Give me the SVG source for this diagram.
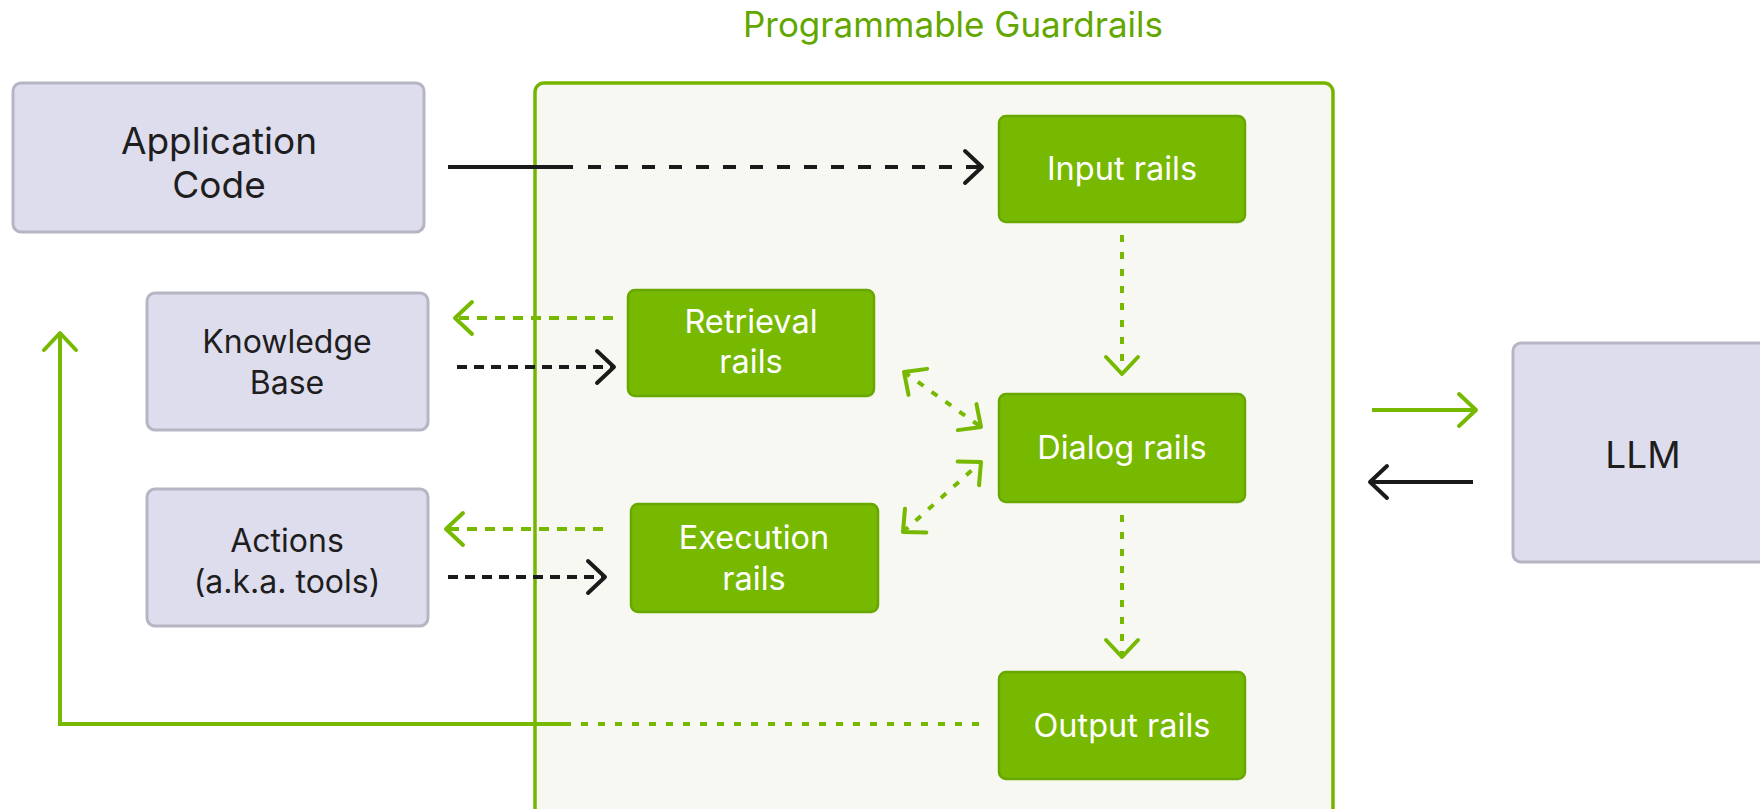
<svg xmlns="http://www.w3.org/2000/svg" width="1760" height="809" viewBox="0 0 1760 809">
<style>
  .lav { fill: #dedded; stroke: #b6b5c4; stroke-width: 3; }
  .grn { fill: #76b900; stroke: #68a600; stroke-width: 2.5; }
  .lt { font-family: Inter, "Noto Sans", "Liberation Sans", sans-serif; font-size: 37px; fill: #1e1e1e; text-anchor: middle; }
  .ls { font-size: 32px; }
  .gt { font-family: Inter, "Noto Sans", "Liberation Sans", sans-serif; font-size: 32.5px; fill: #ffffff; text-anchor: middle; }
  .title { font-family: Inter, "Noto Sans", "Liberation Sans", sans-serif; font-size: 35px; fill: #62a600; text-anchor: middle; }
  .bk { stroke: #1a1a1a; stroke-width: 4; fill: none; }
  .gr { stroke: #76b900; stroke-width: 4; fill: none; }
  .dashB { stroke-dasharray: 13 14; }
  .dashB2 { stroke-dasharray: 10 7; }
  .dashG { stroke-dasharray: 10 8; }
  .dotG { stroke-dasharray: 7 10; }
</style>
<defs>
  <marker id="ab" markerUnits="userSpaceOnUse" markerWidth="40" markerHeight="40" refX="20" refY="20" orient="auto" overflow="visible">
    <path d="M3 4 L20 20 L3 36" fill="none" stroke="#1a1a1a" stroke-width="4" stroke-linecap="round" stroke-linejoin="round"/>
  </marker>
  <marker id="ag" markerUnits="userSpaceOnUse" markerWidth="40" markerHeight="40" refX="20" refY="20" orient="auto-start-reverse" overflow="visible">
    <path d="M3 4 L20 20 L3 36" fill="none" stroke="#76b900" stroke-width="4" stroke-linecap="round" stroke-linejoin="round"/>
  </marker>
</defs>
<rect width="1760" height="809" fill="#ffffff"/>

<g id="guardrails">
  <rect x="535" y="83" width="798" height="760" rx="9" fill="#f7f8f1" stroke="#74b500" stroke-width="3.5"/>
  <text class="title" x="953" y="37">Programmable Guardrails</text>
</g>

<g id="app-code">
  <rect class="lav" x="13" y="83" width="411" height="149" rx="8"/>
  <text class="lt" x="219" y="154">Application</text>
  <text class="lt" x="219" y="198">Code</text>
</g>
<g id="knowledge-base">
  <rect class="lav" x="147" y="293" width="281" height="137" rx="8"/>
  <text class="lt ls" x="287" y="353">Knowledge</text>
  <text class="lt ls" x="287" y="394">Base</text>
</g>
<g id="actions">
  <rect class="lav" x="147" y="489" width="281" height="137" rx="8"/>
  <text class="lt ls" x="287" y="552">Actions</text>
  <text class="lt ls" x="287" y="593">(a.k.a. tools)</text>
</g>
<g id="llm">
  <rect class="lav" x="1513" y="343" width="270" height="219" rx="8"/>
  <text class="lt" x="1643" y="468">LLM</text>
</g>

<g id="input-rails">
  <rect class="grn" x="999" y="116" width="246" height="106" rx="7"/>
  <text class="gt" x="1122" y="180">Input rails</text>
</g>
<g id="retrieval-rails">
  <rect class="grn" x="628" y="290" width="246" height="106" rx="7"/>
  <text class="gt" x="751" y="333">Retrieval</text>
  <text class="gt" x="751" y="373">rails</text>
</g>
<g id="dialog-rails">
  <rect class="grn" x="999" y="394" width="246" height="108" rx="7"/>
  <text class="gt" x="1122" y="459">Dialog rails</text>
</g>
<g id="execution-rails">
  <rect class="grn" x="631" y="504" width="247" height="108" rx="7"/>
  <text class="gt" x="754" y="549">Execution</text>
  <text class="gt" x="754" y="590">rails</text>
</g>
<g id="output-rails">
  <rect class="grn" x="999" y="672" width="246" height="107" rx="7"/>
  <text class="gt" x="1122" y="737">Output rails</text>
</g>

<g id="connectors">
  <line class="bk" x1="448" y1="167" x2="573" y2="167"/>
  <line class="bk dashB" x1="588" y1="167" x2="982" y2="167" marker-end="url(#ab)"/>
  <line class="gr dotG" x1="1122" y1="235" x2="1122" y2="374" marker-end="url(#ag)"/>
  <line class="gr dotG" x1="1122" y1="515" x2="1122" y2="657" marker-end="url(#ag)"/>
  <line class="gr dashG" x1="613" y1="318" x2="455" y2="318" marker-end="url(#ag)"/>
  <line class="bk dashB2" x1="457" y1="367" x2="614" y2="367" marker-end="url(#ab)"/>
  <line class="gr dashG" x1="603" y1="529" x2="446" y2="529" marker-end="url(#ag)"/>
  <line class="bk dashB2" x1="448" y1="577" x2="605" y2="577" marker-end="url(#ab)"/>
  <line class="gr dotG" x1="904" y1="372" x2="981" y2="427" marker-start="url(#ag)" marker-end="url(#ag)"/>
  <line class="gr dotG" x1="903" y1="532" x2="981" y2="462" marker-start="url(#ag)" marker-end="url(#ag)"/>
  <line class="gr dotG" x1="979" y1="724" x2="568" y2="724"/>
  <polyline class="gr" points="568,724 60,724 60,333" marker-end="url(#ag)"/>
  <line class="gr" x1="1372" y1="410" x2="1476" y2="410" marker-end="url(#ag)"/>
  <line class="bk" x1="1473" y1="482" x2="1370" y2="482" marker-end="url(#ab)"/>
</g>
</svg>
